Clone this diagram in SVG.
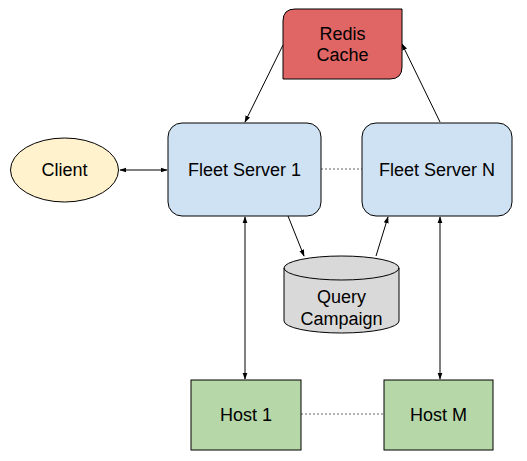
<svg xmlns="http://www.w3.org/2000/svg" width="527" height="461" viewBox="0 0 527 461">
<defs>
<marker id="ah" viewBox="0 0 10 10" refX="9" refY="5" markerWidth="7" markerHeight="7" orient="auto-start-reverse" markerUnits="userSpaceOnUse">
<path d="M0,1.5 L10,5 L0,8.5 z" fill="#000"/>
</marker>
<style>
.n{stroke:#000;stroke-width:1}
.t{font-family:"Liberation Sans",Arial,sans-serif;font-size:18px;fill:#000;text-anchor:middle;dominant-baseline:central}
.c{stroke:#000;stroke-width:1;fill:none}
.d{stroke:#666;stroke-width:1;stroke-dasharray:2,2;fill:none}
</style>
</defs>
<rect width="527" height="461" fill="#fff"/>
<g id="connectors">
<line class="c" x1="283" y1="45" x2="245" y2="122" marker-end="url(#ah)"/>
<line class="c" x1="440" y1="122" x2="402" y2="44" marker-end="url(#ah)"/>
<line class="c" x1="120" y1="170" x2="167" y2="170" marker-start="url(#ah)" marker-end="url(#ah)"/>
<line class="d" x1="321" y1="169" x2="362" y2="169"/>
<line class="c" x1="245" y1="217" x2="245" y2="379" marker-start="url(#ah)" marker-end="url(#ah)"/>
<line class="c" x1="440" y1="217" x2="440" y2="379" marker-start="url(#ah)" marker-end="url(#ah)"/>
<line class="c" x1="288" y1="216" x2="304" y2="256" marker-end="url(#ah)"/>
<line class="c" x1="376" y1="256" x2="388" y2="217" marker-end="url(#ah)"/>
<line class="d" x1="301" y1="414" x2="384" y2="414"/>
</g>
<g id="redis">
<path class="n" fill="#e06666" d="M295,9 H402 V67 Q402,79 390,79 H283 V21 Q283,9 295,9 Z"/>
<text class="t" x="342.5" y="34">Redis</text>
<text class="t" x="342.5" y="55">Cache</text>
</g>
<g id="client">
<ellipse class="n" fill="#fff2cc" cx="64.5" cy="170" rx="54" ry="32"/>
<text class="t" x="64.5" y="170">Client</text>
</g>
<g id="fleet1">
<rect class="n" fill="#cfe2f3" x="168" y="123" width="153" height="93" rx="14"/>
<text class="t" x="244.5" y="170">Fleet Server 1</text>
</g>
<g id="fleetN">
<rect class="n" fill="#cfe2f3" x="362" y="123" width="150" height="93" rx="14"/>
<text class="t" x="437" y="170">Fleet Server N</text>
</g>
<g id="query">
<path class="n" fill="#d9d9d9" d="M284,268 A57.5,12 0 0 1 399,268 V321 A57.5,12 0 0 1 284,321 Z"/>
<path class="c" d="M284,268 A57.5,12 0 0 0 399,268"/>
<text class="t" x="341.5" y="297">Query</text>
<text class="t" x="341.5" y="319">Campaign</text>
</g>
<g id="host1">
<rect class="n" fill="#b6d7a8" x="191" y="380" width="110" height="70"/>
<text class="t" x="246" y="415">Host 1</text>
</g>
<g id="hostM">
<rect class="n" fill="#b6d7a8" x="384" y="380" width="109" height="70"/>
<text class="t" x="438.5" y="415">Host M</text>
</g>
</svg>
